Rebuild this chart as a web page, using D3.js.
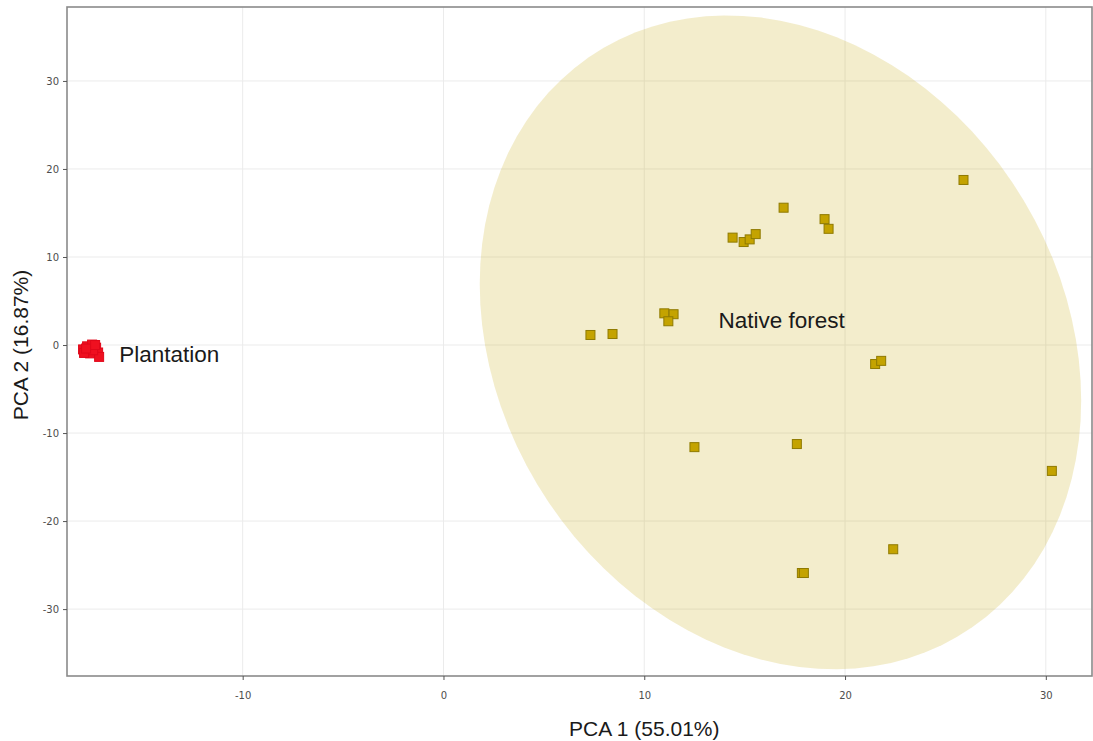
<!DOCTYPE html>
<html>
<head>
<meta charset="utf-8">
<script src="https://cdn.jsdelivr.net/npm/d3@7"></script>
<style>
  html, body { margin: 0; padding: 0; background: #fff; }
  svg { display: block; }
</style>
</head>
<body>
<svg id="chart" width="1093" height="741"></svg>
<script>
// PCA scores, first two components
const plantationX = [-17.95, -17.75, -17.5, -17.3, -17.2, -17.6, -17.9, -17.15, -17.45, -17.8, -17.35];
const plantationY = [-0.5, -0.15, 0.05, -0.3, -0.85, -0.95, -0.9, -1.35, -0.6, -0.4, 0.0];

const nativeX = [7.32, 8.42, 11.0, 11.46, 11.2, 14.4, 14.95, 15.25, 15.55, 16.94, 18.98, 19.18, 25.9, 21.5, 21.8, 12.5, 17.6, 30.3, 22.4, 17.85, 17.95];
const nativeY = [1.14, 1.25, 3.6, 3.5, 2.7, 12.2, 11.7, 12.0, 12.6, 15.6, 14.3, 13.2, 18.75, -2.16, -1.8, -11.6, -11.25, -14.3, -23.2, -25.9, -25.9];

const groupNames = ["Plantation", "Native forest"];
const groupLabelX = [-16.15, 13.7];
const groupLabelY = [-1.0, 2.85];

const xTicks = [-10, 0, 10, 20, 30];
const yTicks = [-30, -20, -10, 0, 10, 20, 30];
const xTitle = "PCA 1 (55.01%)";
const yTitle = "PCA 2 (16.87%)";
const ellipseLevel = 0.95;

const svg = d3.select("#chart");
const panel = { left: 67, right: 1092, top: 7, bottom: 676 };

const x = d3.scaleLinear().domain([-18.75, 32.3]).range([panel.left, panel.right]);
const y = d3.scaleLinear().domain([-37.6, 38.4]).range([panel.bottom, panel.top]);

// grid
const grid = svg.append("g");
grid.selectAll("line.v").data(xTicks).join("line")
  .attr("x1", d => x(d)).attr("x2", d => x(d))
  .attr("y1", panel.top).attr("y2", panel.bottom)
  .attr("stroke", "#ebebeb").attr("stroke-width", 1);
grid.selectAll("line.h").data(yTicks).join("line")
  .attr("x1", panel.left).attr("x2", panel.right)
  .attr("y1", d => y(d)).attr("y2", d => y(d))
  .attr("stroke", "#ebebeb").attr("stroke-width", 1);

// normal-theory confidence ellipse for the native forest group
function confidenceEllipse(xs, ys, level, segments) {
  const n = xs.length;
  const mx = d3.mean(xs), my = d3.mean(ys);
  let sxx = 0, syy = 0, sxy = 0;
  for (let i = 0; i < n; i++) {
    const dx = xs[i] - mx, dy = ys[i] - my;
    sxx += dx * dx; syy += dy * dy; sxy += dx * dy;
  }
  sxx /= (n - 1); syy /= (n - 1); sxy /= (n - 1);
  const d2 = n - 1;
  const fq = (d2 / 2) * (Math.pow(1 - level, -2 / d2) - 1); // qf(level, 2, n-1)
  const r = Math.sqrt(2 * fq);
  const r11 = Math.sqrt(sxx), r12 = sxy / r11, r22 = Math.sqrt(syy - r12 * r12);
  const pts = [];
  for (let k = 0; k <= segments; k++) {
    const t = 2 * Math.PI * k / segments;
    const c = Math.cos(t), s = Math.sin(t);
    pts.push([mx + r * c * r11, my + r * (c * r12 + s * r22)]);
  }
  return pts;
}

const ellipsePts = confidenceEllipse(nativeX, nativeY, ellipseLevel, 100);
svg.append("path")
  .attr("d", d3.line().x(d => x(d[0])).y(d => y(d[1]))(ellipsePts) + "Z")
  .attr("fill", "#c4a400").attr("fill-opacity", 0.2).attr("stroke", "none");

// points
const sz = 9;
svg.append("g").selectAll("rect")
  .data(d3.zip(nativeX, nativeY)).join("rect")
  .attr("x", d => x(d[0]) - sz / 2).attr("y", d => y(d[1]) - sz / 2)
  .attr("width", sz).attr("height", sz)
  .attr("fill", "#c4a300").attr("stroke", "#8f7a00").attr("stroke-width", 1);

svg.append("g").selectAll("rect")
  .data(d3.zip(plantationX, plantationY)).join("rect")
  .attr("x", d => x(d[0]) - sz / 2).attr("y", d => y(d[1]) - sz / 2)
  .attr("width", sz).attr("height", sz)
  .attr("fill", "#ef1020").attr("stroke", "#e0081a").attr("stroke-width", 1);

// group labels
svg.append("g").selectAll("text")
  .data(groupNames).join("text")
  .attr("x", (d, i) => x(groupLabelX[i]))
  .attr("y", (d, i) => y(groupLabelY[i]))
  .attr("dy", "0.36em")
  .attr("font-family", "Liberation Sans, Arial, sans-serif")
  .attr("font-size", 22.5).attr("fill", "#1a1a1a")
  .text(d => d);

// panel border
svg.append("rect")
  .attr("x", panel.left).attr("y", panel.top)
  .attr("width", panel.right - panel.left).attr("height", panel.bottom - panel.top)
  .attr("fill", "none").attr("stroke", "#8a8a8a").attr("stroke-width", 1.6);

// axes
const xAxis = d3.axisBottom(x).tickValues(xTicks).tickSize(4).tickPadding(12).tickFormat(d3.format("d"));
const yAxis = d3.axisLeft(y).tickValues(yTicks).tickSize(4).tickPadding(4).tickFormat(d3.format("d"));

const gx = svg.append("g").attr("transform", `translate(0,${panel.bottom})`).call(xAxis);
const gy = svg.append("g").attr("transform", `translate(${panel.left},0)`).call(yAxis);
[gx, gy].forEach(g => {
  g.select(".domain").remove();
  g.selectAll(".tick line").attr("stroke", "#555").attr("stroke-width", 1);
  g.selectAll(".tick text")
    .attr("font-family", "DejaVu Sans, sans-serif")
    .attr("font-size", 10).attr("fill", "#4d4d4d")
    .text(d => d < 0 ? "-" + Math.abs(d) : String(d));
});

// axis titles
svg.append("text")
  .attr("x", x(0) + (x(20) - x(0)) / 2 + 0).attr("y", 728)
  .attr("text-anchor", "middle").attr("dy", "0.36em")
  .attr("font-family", "Liberation Sans, Arial, sans-serif")
  .attr("font-size", 21).attr("fill", "#1a1a1a")
  .text(xTitle);

svg.append("text")
  .attr("transform", `translate(20,${y(0)}) rotate(-90)`)
  .attr("text-anchor", "middle").attr("dy", "0.36em")
  .attr("font-family", "Liberation Sans, Arial, sans-serif")
  .attr("font-size", 21).attr("fill", "#1a1a1a")
  .text(yTitle);
</script>
</body>
</html>
